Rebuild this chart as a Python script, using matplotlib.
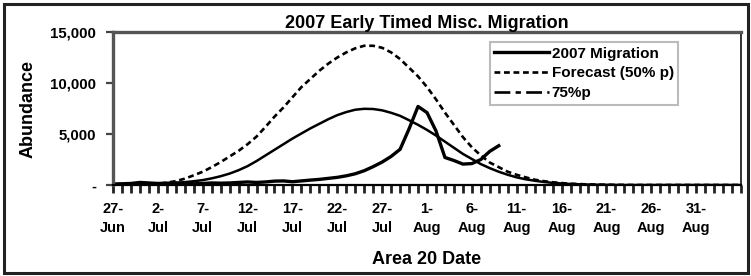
import matplotlib
matplotlib.use("Agg")
import matplotlib.pyplot as plt
from matplotlib.lines import Line2D
from matplotlib.patches import Rectangle
from matplotlib.ticker import FuncFormatter

plt.rcParams['font.family'] = ['Liberation Sans', 'DejaVu Sans']
plt.rcParams['font.weight'] = 'bold'

# Day index 0 = 27-Jun ... 70 = 5-Sep
tick_labels = ["27-\nJun", "2-\nJul", "7-\nJul", "12-\nJul", "17-\nJul", "22-\nJul",
               "27-\nJul", "1-\nAug", "6-\nAug", "11-\nAug", "16-\nAug", "21-\nAug",
               "26-\nAug", "31-\nAug"]
n_days = 71

migration_2007 = [100, 120, 150, 250, 200, 150, 180, 200, 150, 120,
                  150, 200, 180, 200, 250, 300, 250, 300, 380, 400,
                  320, 400, 480, 550, 650, 750, 900, 1100, 1400, 1800,
                  2250, 2800, 3500, 5500, 7700, 7100, 5300, 2700, 2400, 2050,
                  2100, 2500, 3300, 3850]

forecast_50 = [0, 0, 10, 30, 60, 120, 230, 380, 620, 950,
               1300, 1750, 2250, 2800, 3350, 4000, 4750, 5700, 6700, 7600,
               8600, 9600, 10400, 11200, 11900, 12500, 13000, 13400, 13650, 13650,
               13450, 13000, 12350, 11500, 10650, 9600, 8400, 7100, 5900, 4700,
               3700, 2900, 2200, 1750, 1300, 1000, 750, 520, 380, 270,
               190, 130, 90, 60, 40, 25, 15, 10, 0, 0,
               0, 0, 0, 0, 0, 0, 0, 0, 0, 0, 0]

forecast_75 = [0, 0, 10, 30, 60, 100, 150, 210, 280, 370,
               480, 650, 860, 1120, 1450, 1850, 2350, 2900, 3450, 4000,
               4550, 5050, 5550, 6000, 6450, 6850, 7150, 7380, 7470, 7450,
               7320, 7080, 6780, 6350, 5900, 5400, 4850, 4250, 3650, 3050,
               2550, 2050, 1650, 1300, 1000, 750, 560, 420, 300, 210,
               150, 100, 70, 45, 30, 20, 10, 0, 0, 0,
               0, 0, 0, 0, 0, 0, 0, 0, 0, 0, 0]

fig = plt.figure(figsize=(7.51, 2.76), dpi=100)
ax = fig.add_axes([113/751, 1-185/276, (741-113)/751, (185-32)/276])

ax.plot(range(len(forecast_75)), forecast_75, color='black', lw=1.8, solid_capstyle='round')
ax.plot(range(len(forecast_50)), forecast_50, color='black', lw=1.9, linestyle=(0, (2.2, 1.4)))
ax.plot(range(len(migration_2007)), migration_2007, color='black', lw=2.4,
        solid_joinstyle='round')

ax.set_xlim(0, n_days - 1)
ax.set_ylim(0, 15000)

ax.set_xticks(list(range(0, 5 * len(tick_labels), 5)))
ax.set_xticklabels(tick_labels, fontsize=10.5, fontweight='bold', linespacing=1.45)
ax.set_xticks(list(range(n_days)), minor=True)
ax.tick_params(axis='x', which='both', direction='out', length=6, width=2.0,
               color='#222222', pad=6)

ax.set_yticks([0, 5000, 10000, 15000])
ax.yaxis.set_major_formatter(FuncFormatter(lambda v, p: "-" if v == 0 else f"{int(v):,}"))
ax.tick_params(axis='y', which='major', direction='out', length=5, width=1.6,
               color='#444444', labelsize=10.8, pad=7)
for lab in ax.get_yticklabels():
    lab.set_fontweight('bold')

for s in ['left', 'top']:
    ax.spines[s].set_color('#555555')
    ax.spines[s].set_linewidth(2.4)
ax.spines['right'].set_color('#333333')
ax.spines['right'].set_linewidth(1.4)
ax.spines['bottom'].set_color('black')
ax.spines['bottom'].set_linewidth(1.6)

ax.set_title("2007 Early Timed Misc. Migration", fontsize=13, fontweight='bold', pad=3)
ax.set_xlabel("Area 20 Date", fontsize=13, fontweight='bold', labelpad=12)
ax.set_ylabel("Abundance", fontsize=13, fontweight='bold', labelpad=10)

handles = [Line2D([], [], color='black', lw=2.4),
           Line2D([], [], color='black', lw=1.9, linestyle=(0, (2.2, 1.4))),
           Line2D([], [], color='black', lw=1.9, linestyle=(0, (6, 2, 2, 2)))]
leg = ax.legend(handles, ["2007 Migration", "Forecast (50% p)", "75%p"],
                loc='upper left', bbox_to_anchor=(0.600, 0.935), borderaxespad=0,
                prop={'size': 11, 'weight': 'bold'},
                handlelength=3.6, handletextpad=0.15, labelspacing=0.38,
                borderpad=0.3, fancybox=False, framealpha=1)
leg.get_frame().set_edgecolor('#bbbbbb')
leg.get_frame().set_linewidth(1.5)

fig.patches.append(Rectangle((4/751, 1-273/276), 744/751, 269/276, transform=fig.transFigure,
                             fill=False, edgecolor='#222222', lw=2.2))

fig.savefig("out.png", dpi=100)
